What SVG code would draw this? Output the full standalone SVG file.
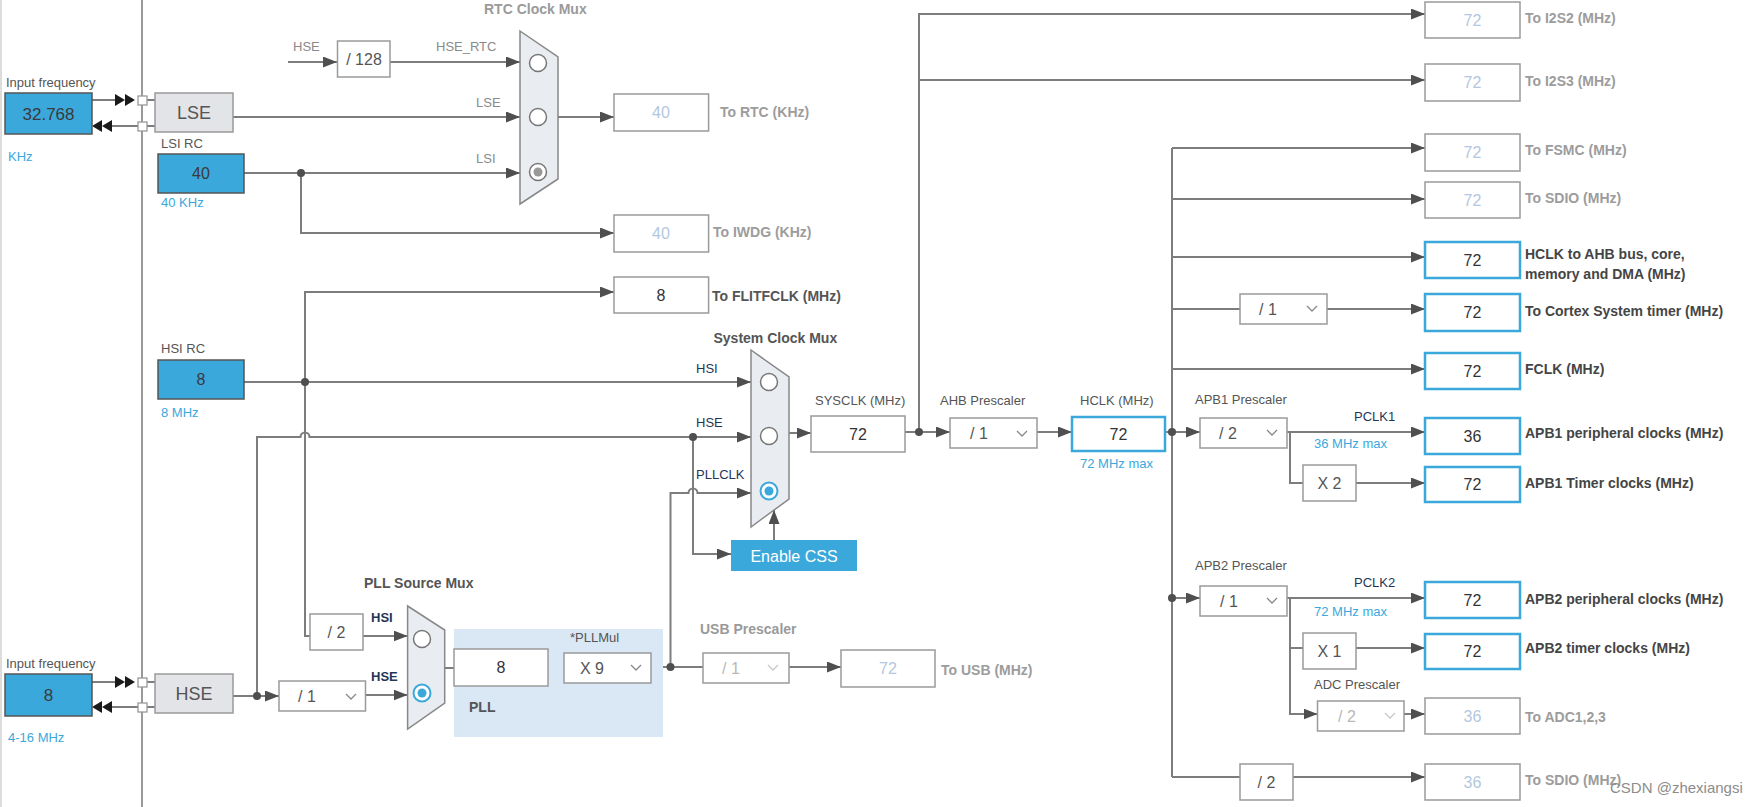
<svg xmlns="http://www.w3.org/2000/svg" width="1756" height="807" viewBox="0 0 1756 807">
<defs>
<marker id="ah" markerUnits="userSpaceOnUse" markerWidth="15" markerHeight="12" refX="14" refY="5.5" orient="auto">
<path d="M0,0 L14,5.5 L0,11 z" fill="#4f4f4f"/>
</marker>
</defs>
<style>
.ln{fill:none;stroke:#7d7d7d;stroke-width:2}
.a{marker-end:url(#ah)}
.dot{fill:#4f4f4f}
.tri{fill:#1a1a1a}
.sq{fill:#fff;stroke:#999;stroke-width:1.3}
.blue{fill:#3ba8dc;stroke:#555;stroke-width:1.5}
.gbox{fill:#e2e4e7;stroke:#9a9a9a;stroke-width:1.5}
.wbox{fill:#fff;stroke:#9a9a9a;stroke-width:1.5}
.ebox{fill:#fff;stroke:#3ba8dc;stroke-width:2.5}
.mux{fill:#e9edf1;stroke:#888;stroke-width:1.5}
.rad{fill:#fff;stroke:#777;stroke-width:1.5}
.radb{fill:#fff;stroke:#3ba8dc;stroke-width:2}
.chev{fill:none;stroke:#888;stroke-width:1.3}
.chevd{fill:none;stroke:#c8c8c8;stroke-width:1.3}
text{font-family:"Liberation Sans",Arial,Helvetica,sans-serif}
.lbl{font-size:13px;fill:#555}
.lblg{font-size:13px;fill:#8a8a8a}
.blu{font-size:13px;fill:#3ba8dc}
.val{font-size:16px;fill:#333;text-anchor:middle}
.vdis{font-size:16px;fill:#b3c7e0;text-anchor:middle}
.dd{font-size:16px;fill:#555}
.ddd{font-size:16px;fill:#b8b8b8}
.big{font-size:18px;fill:#555;text-anchor:middle}
.rl{font-size:14px;font-weight:bold;fill:#454545}
.rld{font-size:14px;font-weight:bold;fill:#9c9c9c}
.ttl{font-size:14px;font-weight:bold;fill:#555}
.ttlg{font-size:14px;font-weight:bold;fill:#9a9a9a}
.nav{font-size:13px;fill:#1f3657}
.wm{font-size:14px;fill:#8c8c8c}
</style>
<rect width="1756" height="807" fill="#fff"/>
<line x1="1" y1="0" x2="1" y2="807" stroke="#d0d0d0" stroke-width="1.5"/>
<line x1="142" y1="0" x2="142" y2="807" stroke="#999" stroke-width="2"/>

<g id="connectors">
<!-- LSE input arrows -->
<line class="ln" x1="92" y1="100" x2="115" y2="100"/>
<polygon class="tri" points="115,94 125,100 115,106"/>
<polygon class="tri" points="125,94 135,100 125,106"/>
<line class="ln" x1="111" y1="126" x2="138" y2="126"/>
<polygon class="tri" points="112,120 102,126 112,132"/>
<polygon class="tri" points="102,120 92,126 102,132"/>
<line class="ln" x1="147" y1="100" x2="155" y2="100"/>
<line class="ln" x1="147" y1="126" x2="155" y2="126"/>
<!-- HSE input arrows -->
<line class="ln" x1="92" y1="682" x2="115" y2="682"/>
<polygon class="tri" points="115,676 125,682 115,688"/>
<polygon class="tri" points="125,676 135,682 125,688"/>
<line class="ln" x1="111" y1="707" x2="138" y2="707"/>
<polygon class="tri" points="112,701 102,707 112,713"/>
<polygon class="tri" points="102,701 92,707 102,713"/>
<line class="ln" x1="147" y1="682" x2="155" y2="682"/>
<line class="ln" x1="147" y1="707" x2="155" y2="707"/>

<!-- RTC -->
<line class="ln a" x1="288" y1="62" x2="337" y2="62"/>
<line class="ln a" x1="390" y1="62" x2="520" y2="62"/>
<line class="ln a" x1="233" y1="117" x2="520" y2="117"/>
<line class="ln a" x1="244" y1="173" x2="520" y2="173"/>
<path class="ln a" d="M301,173 V233 H614"/>
<line class="ln a" x1="558" y1="117" x2="614" y2="117"/>

<!-- HSI -->
<line class="ln a" x1="244" y1="382" x2="751" y2="382"/>
<path class="ln a" d="M305,382 V292 H614"/>
<path class="ln" d="M305,382 V636 H310"/>
<!-- HSE to sys mux -->
<path class="ln a" d="M257,696 V437 H300.5 A4.5,4.5 0 0 1 309.5,437 H751"/>
<path class="ln a" d="M693,437 V554 H731"/>
<!-- PLLCLK -->
<path class="ln a" d="M670.5,667 V493 H688.5 A4.5,4.5 0 0 1 697.5,493 H751"/>
<!-- Enable CSS to mux -->
<line class="ln a" x1="774" y1="540" x2="774" y2="510"/>
<!-- sys mux out -->
<line class="ln a" x1="789" y1="433" x2="811" y2="433"/>
<line class="ln a" x1="905" y1="432" x2="950" y2="432"/>
<path class="ln a" d="M919,432 V14 H1425"/>
<line class="ln a" x1="919" y1="80" x2="1425" y2="80"/>
<line class="ln a" x1="1037" y1="432" x2="1072" y2="432"/>
<line class="ln a" x1="1165" y1="432" x2="1200" y2="432"/>
<line class="ln" x1="1172" y1="148" x2="1172" y2="777"/>
<line class="ln a" x1="1172" y1="148" x2="1425" y2="148"/>
<line class="ln a" x1="1172" y1="199" x2="1425" y2="199"/>
<line class="ln a" x1="1172" y1="257" x2="1425" y2="257"/>
<line class="ln" x1="1172" y1="309" x2="1240" y2="309"/>
<line class="ln a" x1="1327" y1="309" x2="1425" y2="309"/>
<line class="ln a" x1="1172" y1="369" x2="1425" y2="369"/>
<!-- APB1 -->
<line class="ln a" x1="1287" y1="432" x2="1425" y2="432"/>
<path class="ln" d="M1290,432 V483 H1303"/>
<line class="ln a" x1="1356" y1="483" x2="1425" y2="483"/>
<!-- APB2 -->
<line class="ln a" x1="1172" y1="598" x2="1200" y2="598"/>
<line class="ln a" x1="1287" y1="598" x2="1425" y2="598"/>
<path class="ln" d="M1290,598 V648 H1303"/>
<path class="ln a" d="M1290,648 V714 H1317.5"/>
<line class="ln a" x1="1356" y1="648" x2="1425" y2="648"/>
<line class="ln a" x1="1404" y1="714" x2="1425" y2="714"/>
<!-- SDIO bottom -->
<path class="ln" d="M1172,777 H1240"/>
<line class="ln a" x1="1293" y1="777" x2="1425" y2="777"/>
<!-- HSE path -->
<line class="ln a" x1="233" y1="696" x2="279" y2="696"/>
<line class="ln a" x1="365.5" y1="695" x2="407.6" y2="695"/>
<line class="ln a" x1="363" y1="636" x2="407.6" y2="636"/>
<line class="ln" x1="444.7" y1="668" x2="454" y2="668"/>
<line class="ln" x1="548" y1="668" x2="564" y2="668"/>
<line class="ln" x1="651" y1="667" x2="703" y2="667"/>
<line class="ln a" x1="789" y1="667" x2="841" y2="667"/>
<!-- junction dots -->
<circle class="dot" cx="301" cy="173" r="4"/>
<circle class="dot" cx="305" cy="382" r="4"/>
<circle class="dot" cx="693" cy="437" r="4"/>
<circle class="dot" cx="919" cy="432" r="4"/>
<circle class="dot" cx="1172" cy="432" r="4"/>
<circle class="dot" cx="1172" cy="598" r="4"/>
<circle class="dot" cx="257" cy="696" r="4"/>
<circle class="dot" cx="670.5" cy="667" r="4"/>
</g>

<g id="lse-input">
<text class="lbl" x="6" y="87">Input frequency</text>
<rect class="blue" x="5" y="93" width="87" height="41"/>
<text class="val" x="48.5" y="120" style="font-size:17px;fill:#3a3a3a">32.768</text>
<text class="blu" x="8" y="161">KHz</text>
<rect class="sq" x="138" y="96" width="9" height="9"/>
<rect class="sq" x="138" y="122" width="9" height="9"/>
</g>
<g id="lse">
<rect class="gbox" x="155" y="93" width="78" height="39"/>
<text class="big" x="194" y="119">LSE</text>
</g>
<g id="lsi">
<text class="lbl" x="161" y="148">LSI RC</text>
<rect class="blue" x="158" y="154" width="86" height="39"/>
<text class="val" x="201" y="179" style="fill:#3a3a3a">40</text>
<text class="blu" x="161" y="207">40 KHz</text>
</g>
<g id="hse-div128">
<text class="lblg" x="293" y="51">HSE</text>
<rect class="wbox" x="337.5" y="41" width="52.5" height="36"/>
<text class="val" x="364" y="65" style="fill:#555">/ 128</text>
</g>
<g id="rtc-mux">
<text class="ttlg" x="484" y="14">RTC Clock Mux</text>
<text class="lblg" x="436" y="51">HSE_RTC</text>
<text class="lblg" x="476" y="107">LSE</text>
<text class="lblg" x="476" y="163">LSI</text>
<polygon class="mux" points="520,31 558,57 558,179 520,204"/>
<circle class="rad" cx="538" cy="63" r="8.5"/>
<circle class="rad" cx="538" cy="117" r="8.5"/>
<circle class="rad" cx="538" cy="172" r="8.5"/>
<circle cx="538" cy="172" r="4.5" fill="#999"/>
</g>
<g id="rtc-out">
<rect class="wbox" x="614" y="94" width="94.6" height="37"/>
<text class="vdis" x="661" y="118">40</text>
<text class="rld" x="720" y="117">To RTC (KHz)</text>
</g>
<g id="iwdg-out">
<rect class="wbox" x="614" y="215" width="94.6" height="37"/>
<text class="vdis" x="661" y="239">40</text>
<text class="rld" x="713" y="237">To IWDG (KHz)</text>
</g>
<g id="flitf-out">
<rect class="wbox" x="614" y="277" width="94.6" height="36"/>
<text class="val" x="661" y="300.5">8</text>
<text class="rl" x="712" y="301" style="fill:#555">To FLITFCLK (MHz)</text>
</g>
<g id="hsi">
<text class="lbl" x="161" y="353">HSI RC</text>
<rect class="blue" x="158" y="360" width="86" height="39"/>
<text class="val" x="201" y="385" style="fill:#3a3a3a">8</text>
<text class="blu" x="161" y="417">8 MHz</text>
</g>
<g id="sys-mux">
<text class="ttl" x="713.5" y="343">System Clock Mux</text>
<text class="nav" x="696" y="373">HSI</text>
<text class="nav" x="696" y="427">HSE</text>
<text class="nav" x="696" y="479">PLLCLK</text>
<polygon class="mux" points="751,350 789,377 789,499 751,527"/>
<circle class="rad" cx="769" cy="382" r="8.5"/>
<circle class="rad" cx="769" cy="436" r="8.5"/>
<circle class="radb" cx="769" cy="491" r="8.5"/>
<circle cx="769" cy="491" r="4.5" fill="#3ba8dc"/>
</g>
<g id="sysclk">
<text class="lbl" x="815" y="405">SYSCLK (MHz)</text>
<rect class="wbox" x="811" y="416" width="94" height="36"/>
<text class="val" x="858" y="440">72</text>
</g>
<g id="ahb-prescaler">
<text class="lbl" x="940" y="405">AHB Prescaler</text>
<rect class="wbox" x="950" y="418" width="87" height="30"/>
<text class="dd" x="970" y="439">/ 1</text>
<polyline class="chev" points="1017,431 1022,436 1027,431"/>
</g>
<g id="hclk">
<text class="lbl" x="1080" y="405">HCLK (MHz)</text>
<rect class="ebox" x="1072" y="417" width="93" height="34"/>
<text class="val" x="1118.5" y="439.5">72</text>
<text class="blu" x="1080" y="468">72 MHz max</text>
</g>
<g id="enable-css">
<rect x="731" y="540" width="126" height="31" fill="#3ba8dc"/>
<text x="794" y="561.5" text-anchor="middle" style="font-size:16px;fill:#fff">Enable CSS</text>
</g>
<g id="hse-input">
<text class="lbl" x="6" y="668">Input frequency</text>
<rect class="blue" x="5" y="674" width="87" height="42"/>
<text class="val" x="48.5" y="701" style="font-size:17px;fill:#3a3a3a">8</text>
<text class="blu" x="8" y="742">4-16 MHz</text>
<rect class="sq" x="138" y="678" width="9" height="9"/>
<rect class="sq" x="138" y="703" width="9" height="9"/>
</g>
<g id="hse">
<rect class="gbox" x="155" y="674" width="78" height="39"/>
<text class="big" x="194" y="700">HSE</text>
</g>
<g id="hse-prediv">
<rect class="wbox" x="279" y="681" width="86.5" height="30"/>
<text class="dd" x="298" y="702">/ 1</text>
<polyline class="chev" points="346,694 351,699 356,694"/>
</g>
<g id="hsi-div2">
<rect class="wbox" x="310" y="614" width="53" height="36"/>
<text class="dd" x="336.5" y="638" text-anchor="middle">/ 2</text>
</g>
<g id="pll-mux">
<text class="ttl" x="364" y="588">PLL Source Mux</text>
<text class="nav" x="371" y="622" style="font-weight:bold">HSI</text>
<text class="nav" x="371" y="681" style="font-weight:bold">HSE</text>
<polygon class="mux" points="407.6,606 444.7,630 444.7,703 407.6,729"/>
<circle class="rad" cx="422" cy="639" r="8.5"/>
<circle class="radb" cx="422" cy="693" r="8.5"/>
<circle cx="422" cy="693" r="4.5" fill="#3ba8dc"/>
</g>
<g id="pll">
<rect x="454" y="629" width="209" height="108" fill="#dae7f4"/>
<rect class="wbox" x="454" y="649" width="94" height="37"/>
<text class="val" x="501" y="673">8</text>
<text class="lbl" x="570" y="642">*PLLMul</text>
<rect class="wbox" x="564" y="653" width="87" height="30"/>
<text class="dd" x="580" y="674">X 9</text>
<polyline class="chev" points="631,665 636,670 641,665"/>
<text class="ttl" x="469" y="712">PLL</text>
</g>
<g id="usb-prescaler">
<text class="ttlg" x="700" y="634">USB Prescaler</text>
<rect class="wbox" x="703" y="653" width="86" height="30"/>
<text class="ddd" x="722" y="674">/ 1</text>
<polyline class="chevd" points="768,665 773,670 778,665"/>
</g>
<g id="usb-out">
<rect class="wbox" x="841" y="650" width="94" height="37"/>
<text class="vdis" x="888" y="674">72</text>
<text class="rld" x="941" y="675">To USB (MHz)</text>
</g>

<g id="i2s2-out">
<rect class="wbox" x="1425" y="2" width="95" height="36"/>
<text class="vdis" x="1472.5" y="25.5">72</text>
<text class="rld" x="1525" y="23">To I2S2 (MHz)</text>
</g>
<g id="i2s3-out">
<rect class="wbox" x="1425" y="64" width="95" height="37"/>
<text class="vdis" x="1472.5" y="88">72</text>
<text class="rld" x="1525" y="86">To I2S3 (MHz)</text>
</g>
<g id="fsmc-out">
<rect class="wbox" x="1425" y="134" width="95" height="37"/>
<text class="vdis" x="1472.5" y="158">72</text>
<text class="rld" x="1525" y="155">To FSMC (MHz)</text>
</g>
<g id="sdio-out">
<rect class="wbox" x="1425" y="182" width="95" height="36"/>
<text class="vdis" x="1472.5" y="205.5">72</text>
<text class="rld" x="1525" y="203">To SDIO (MHz)</text>
</g>
<g id="hclk-ahb-out">
<rect class="ebox" x="1425" y="242" width="95" height="36"/>
<text class="val" x="1472.5" y="265.5">72</text>
<text class="rl" x="1525" y="259">HCLK to AHB bus, core,</text>
<text class="rl" x="1525" y="279">memory and DMA (MHz)</text>
</g>
<g id="cortex-div">
<rect class="wbox" x="1240" y="294" width="87" height="30"/>
<text class="dd" x="1259" y="315">/ 1</text>
<polyline class="chev" points="1307,306 1312,311 1317,306"/>
</g>
<g id="cortex-out">
<rect class="ebox" x="1425" y="294" width="95" height="37"/>
<text class="val" x="1472.5" y="318">72</text>
<text class="rl" x="1525" y="316">To Cortex System timer (MHz)</text>
</g>
<g id="fclk-out">
<rect class="ebox" x="1425" y="353" width="95" height="36"/>
<text class="val" x="1472.5" y="376.5">72</text>
<text class="rl" x="1525" y="374">FCLK (MHz)</text>
</g>
<g id="apb1-prescaler">
<text class="lbl" x="1195" y="404">APB1 Prescaler</text>
<rect class="wbox" x="1200" y="418" width="87" height="30"/>
<text class="dd" x="1219" y="439">/ 2</text>
<polyline class="chev" points="1267,430 1272,435 1277,430"/>
<text class="nav" x="1354" y="421">PCLK1</text>
<text class="blu" x="1314" y="448">36 MHz max</text>
</g>
<g id="apb1-periph-out">
<rect class="ebox" x="1425" y="418" width="95" height="36"/>
<text class="val" x="1472.5" y="441.5">36</text>
<text class="rl" x="1525" y="438">APB1 peripheral clocks (MHz)</text>
</g>
<g id="apb1-x2">
<rect class="wbox" x="1303" y="465" width="53" height="36"/>
<text class="dd" x="1329.5" y="489" text-anchor="middle">X 2</text>
</g>
<g id="apb1-timer-out">
<rect class="ebox" x="1425" y="467" width="95" height="35"/>
<text class="val" x="1472.5" y="490">72</text>
<text class="rl" x="1525" y="488">APB1 Timer clocks (MHz)</text>
</g>
<g id="apb2-prescaler">
<text class="lbl" x="1195" y="570">APB2 Prescaler</text>
<rect class="wbox" x="1200" y="586" width="87" height="30"/>
<text class="dd" x="1220" y="607">/ 1</text>
<polyline class="chev" points="1267,598 1272,603 1277,598"/>
<text class="nav" x="1354" y="587">PCLK2</text>
<text class="blu" x="1314" y="616">72 MHz max</text>
</g>
<g id="apb2-periph-out">
<rect class="ebox" x="1425" y="582" width="95" height="36"/>
<text class="val" x="1472.5" y="605.5">72</text>
<text class="rl" x="1525" y="604">APB2 peripheral clocks (MHz)</text>
</g>
<g id="apb2-x1">
<rect class="wbox" x="1303" y="633" width="53" height="36"/>
<text class="dd" x="1329.5" y="657" text-anchor="middle">X 1</text>
</g>
<g id="apb2-timer-out">
<rect class="ebox" x="1425" y="634" width="95" height="35"/>
<text class="val" x="1472.5" y="657">72</text>
<text class="rl" x="1525" y="653">APB2 timer clocks (MHz)</text>
</g>
<g id="adc-prescaler">
<text class="lbl" x="1314" y="689">ADC Prescaler</text>
<rect class="wbox" x="1317.5" y="701" width="86.5" height="30"/>
<text class="ddd" x="1338" y="722">/ 2</text>
<polyline class="chevd" points="1385,713 1390,718 1395,713"/>
</g>
<g id="adc-out">
<rect class="wbox" x="1425" y="698" width="95" height="36"/>
<text class="vdis" x="1472.5" y="721.5">36</text>
<text class="rld" x="1525" y="722">To ADC1,2,3</text>
</g>
<g id="sdio-div2">
<rect class="wbox" x="1240" y="764" width="53" height="36"/>
<text class="dd" x="1266.5" y="788" text-anchor="middle">/ 2</text>
</g>
<g id="sdio2-out">
<rect class="wbox" x="1425" y="764" width="95" height="36"/>
<text class="vdis" x="1472.5" y="787.5">36</text>
<text class="rld" x="1525" y="785">To SDIO (MHz)</text>
</g>
<text class="wm" x="1610" y="793" style="font-size:15px">CSDN @zhexiangsi</text>
</svg>
